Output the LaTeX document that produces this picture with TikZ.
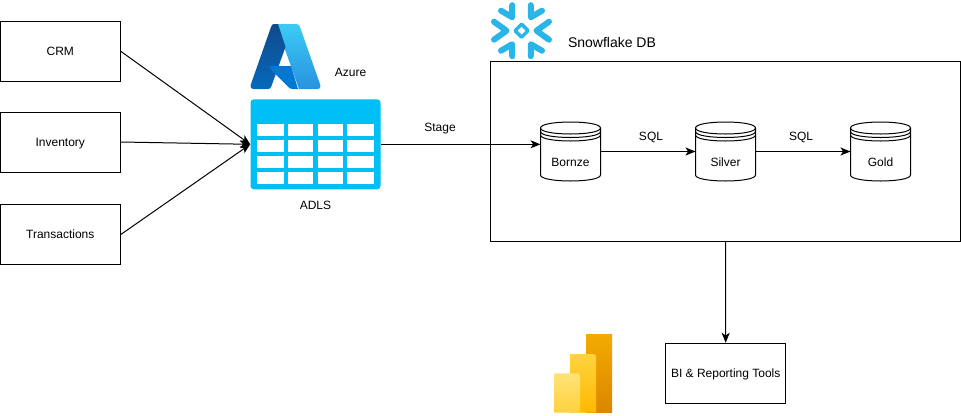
\documentclass[tikz,border=0pt]{standalone}
\usepackage{fontspec}
\setmainfont{Liberation Sans}
\usetikzlibrary{arrows.meta,calc}
\definecolor{snow}{HTML}{29B5E8}
\definecolor{adlsblue}{HTML}{00BEF6}
\definecolor{azdarkT}{HTML}{114A8B}
\definecolor{azdarkB}{HTML}{0669BC}
\definecolor{azlightT}{HTML}{3CCBF4}
\definecolor{azlightB}{HTML}{2892DF}
\definecolor{azmid}{HTML}{0078D4}
\definecolor{pbbackT}{HTML}{F3AB00}
\definecolor{pbbackB}{HTML}{DB8600}
\definecolor{pbmidT}{HTML}{FFD33F}
\definecolor{pbmidB}{HTML}{FFB900}
\definecolor{pbfrontT}{HTML}{FFE37A}
\definecolor{pbfrontB}{HTML}{FFD23C}
\tikzset{
  px/.style={x=0.75pt,y=-0.75pt},
  box/.style={draw=black,line width=0.75pt,fill=white,minimum width=90pt,minimum height=45pt,inner sep=0pt,text height=6.5pt,text depth=0pt,font=\fontsize{9}{11}\selectfont},
  lbl/.style={font=\fontsize{9}{11}\selectfont,inner sep=0pt,text height=6.5pt,text depth=0pt},
  conn/.style={draw=black,line width=0.75pt,-{Stealth[length=7.5pt,width=6pt,inset=2pt]}},
  cyl/.style={draw=black,line width=0.75pt,fill=white},
  flake/.style={draw=snow,line width=4.5pt,line cap=round,line join=round},
}
\newcommand{\dbcyl}[4]{% name, cx, top, label
  \begin{scope}[shift={(#2,#3)}]
    \draw[cyl] (-30,6) .. controls (-30,-2) and (30,-2) .. (30,6) -- (30,53)
       .. controls (30,61) and (-30,61) .. (-30,53) -- cycle;
    \draw[cyl,fill=none] (-30,6) .. controls (-30,14) and (30,14) .. (30,6);
    \draw[cyl,fill=none] (-30,9.5) .. controls (-30,17.5) and (30,17.5) .. (30,9.5);
    \draw[cyl,fill=none] (-30,13) .. controls (-30,21) and (30,21) .. (30,13);
  \end{scope}
  \coordinate (#1w) at (#2-30,#3+29.5);
  \coordinate (#1e) at (#2+30,#3+29.5);
  \node[lbl] (#1) at (#2,#3+39.7) {#4};
}
\begin{document}
\begin{tikzpicture}[px]
\useasboundingbox (0,0) rectangle (961,415);
% sources
\node[box] (crm) at (60.3,51.3) {CRM};
\node[box] (inv) at (60.3,142) {Inventory};
\node[box] (trx) at (60.3,234.5) {Transactions};
% Azure logo
\path[top color=azlightT,bottom color=azlightB] (276,24) -- (296,24) .. controls (298,24) and (299.5,25) .. (300,27) -- (320,84) .. controls (321,87) and (320,89) .. (317,89) -- (299,89) -- cycle;
\path[top color=azdarkT,bottom color=azdarkB] (274,24) -- (278,24) -- (285.5,47) -- (271.5,86) .. controls (271,88) and (270,89) .. (268,89) -- (254,89) .. controls (251,89) and (250,87) .. (251,84) -- (271,27) .. controls (271.5,25) and (272.5,24) .. (274,24) -- cycle;
\fill[azmid] (270.5,66) -- (291,66) -- (298,89) -- (293,89) .. controls (291,89) and (290,88.5) .. (289,87.5) -- (270.5,69) .. controls (269.5,68) and (269.5,66.5) .. (270.5,66) -- cycle;
\node[lbl] (azure) at (350.5,71.7) {Azure};
% ADLS
\node[fill=adlsblue,rounded corners=2.5pt,minimum width=97.5pt,minimum height=67.5pt,inner sep=0pt] (adls) at (315.5,144.3) {};
\foreach \yy/\hh in {124/12.3,140/12.3,155.7/12.3,171.7/12}{
  \foreach \xx/\ww in {257.3/26.4,287.7/25.6,317.7/25.6,347.3/26.4}{
    \fill[white] (\xx,\yy) rectangle ++(\ww,\hh);
  }
}
\node[lbl] (adlslbl) at (315.5,204.7) {ADLS};
% Snowflake logo
\begin{scope}[shift={(521.5,30.7)}]
  \draw[flake] (-27.5,-9) -- (-15,0) -- (-27.5,9);
  \draw[flake] (27.5,-9) -- (15,0) -- (27.5,9);
  \draw[flake] (-9.3,-25.5) -- (-9.3,-13.5) -- (-20.5,-20);
  \draw[flake] (9.3,-25.5) -- (9.3,-13.5) -- (20.5,-20);
  \draw[flake] (-9.3,25.5) -- (-9.3,13.5) -- (-20.5,20);
  \draw[flake] (9.3,25.5) -- (9.3,13.5) -- (20.5,20);
  \draw[draw=snow,line width=2.6pt,line join=round] (0,-6.5) -- (6.5,0) -- (0,6.5) -- (-6.5,0) -- cycle;
\end{scope}
\node[font=\fontsize{10.5}{12}\selectfont,inner sep=0pt,text height=7.6pt,text depth=0pt] (snowlbl) at (612,42) {Snowflake DB};
% Snowflake container
\node[draw=black,line width=0.75pt,minimum width=352.5pt,minimum height=135pt,inner sep=0pt] (sf) at (725.5,151) {};
% DBs
\dbcyl{bz}{570.5}{122}{Bornze}
\dbcyl{sv}{725.5}{122}{Silver}
\dbcyl{gd}{880.5}{122}{Gold}
\coordinate (bzin) at (540.5,144.3);
% BI
\node[box] (bi) at (725.7,373.3) {BI \& Reporting Tools};
% PowerBI logo
\path[top color=pbbackT,bottom color=pbbackB] (586,334.5) -- (612,334.5) -- (612,412.5) -- (586,412.5) -- cycle;
\path[top color=pbmidT,bottom color=pbmidB] (570,354) -- (593,354) .. controls (595,354) and (596,355) .. (596,357) -- (596,412.5) -- (570,412.5) -- cycle;
\path[top color=pbfrontT,bottom color=pbfrontB] (554,373.3) -- (577,373.3) .. controls (579,373.3) and (580,374.3) .. (580,376.3) -- (580,412.5) -- (554,412.5) -- cycle;
% connectors
\draw[conn] (crm.east) -- (adls.west);
\draw[conn] (inv.east) -- (adls.west);
\draw[conn] (trx.east) -- (adls.west);
\draw[conn] (adls.east) -- (bzin);
\draw[conn] (bze) -- (svw);
\draw[conn] (sve) -- (gdw);
\draw[conn] (sf.south) -- (bi.north);
\node[lbl] (stage) at (440,127) {Stage};
\node[lbl] (sql1) at (651,136.5) {SQL};
\node[lbl] (sql2) at (801,136.5) {SQL};
\end{tikzpicture}
\end{document}
